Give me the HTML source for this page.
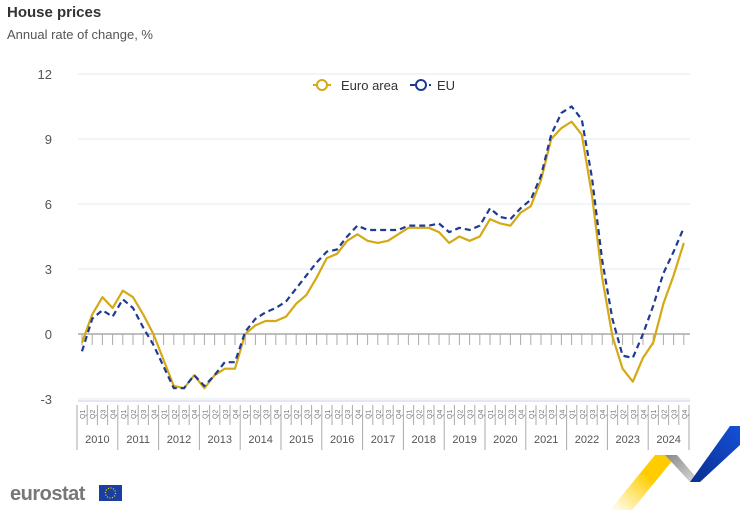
<!DOCTYPE html>
<html><head><meta charset="utf-8"><style>
body{margin:0;width:740px;height:521px;background:#fff;font-family:"Liberation Sans",Arial,sans-serif;overflow:hidden}
</style></head><body>
<svg id="s" width="740" height="521" xmlns="http://www.w3.org/2000/svg" font-family="Liberation Sans, Arial, sans-serif">
<text x="7" y="17" font-size="15" font-weight="bold" fill="#333">House prices</text>
<text x="7" y="39" font-size="13" fill="#555">Annual rate of change, %</text>
<g id="grid"></g>
<g font-size="13" fill="#555" text-anchor="end">
<text x="52" y="79">12</text><text x="52" y="144">9</text><text x="52" y="209">6</text><text x="52" y="274">3</text><text x="52" y="339">0</text><text x="52" y="404">-3</text>
</g>
<g id="ax"></g>
<polyline id="ea" fill="none" stroke="#d4a915" stroke-width="2.2" stroke-linejoin="round"/>
<polyline id="eu" fill="none" stroke="#1f3a93" stroke-width="2.2" stroke-dasharray="6,4" stroke-linejoin="round"/>
<g font-size="13" fill="#333">
<line x1="313" y1="85" x2="331" y2="85" stroke="#d4a915" stroke-width="2"/><circle cx="322" cy="85" r="5" fill="#fff" stroke="#d4a915" stroke-width="2"/>
<text x="341" y="90">Euro area</text>
<line x1="410" y1="85" x2="418" y2="85" stroke="#1f3a93" stroke-width="2"/><circle cx="421" cy="85" r="5" fill="#fff" stroke="#1f3a93" stroke-width="2"/><line x1="429" y1="85" x2="431" y2="85" stroke="#1f3a93" stroke-width="2"/>
<text x="437" y="90">EU</text>
</g>
<text x="10" y="500" font-size="20" font-weight="bold" fill="#777" letter-spacing="-0.5">eurostat</text>
<rect x="99" y="485" width="23" height="16" fill="#1a3fa0"/>
<circle cx="110.5" cy="493" r="5" fill="none" stroke="#ffd000" stroke-width="1.3" stroke-dasharray="1,1.6"/>
<defs><linearGradient id="gy" x1="0" y1="1" x2="1" y2="0"><stop offset="0" stop-color="#ffd200" stop-opacity="0"/><stop offset="0.6" stop-color="#ffcc00"/></linearGradient>
<linearGradient id="gg" x1="0" y1="0" x2="1" y2="1"><stop offset="0" stop-color="#888"/><stop offset="1" stop-color="#ddd"/></linearGradient>
<linearGradient id="gb" x1="0" y1="1" x2="1" y2="0"><stop offset="0" stop-color="#0a2f8f"/><stop offset="1" stop-color="#1550d8"/></linearGradient></defs>
<polygon points="610,510 655,455 677,455 632,510" fill="url(#gy)"/>
<polygon points="665,455 677,455 700,482 690,482" fill="url(#gg)"/>
<polygon points="690,482 730,426 740,426 740,445 700,482" fill="url(#gb)"/>
</svg>
<script>
var ea=[-0.4,0.9,1.7,1.2,2.0,1.7,0.9,0.0,-1.2,-2.4,-2.5,-1.9,-2.5,-1.9,-1.6,-1.6,0.0,0.4,0.6,0.6,0.8,1.4,1.8,2.6,3.5,3.7,4.3,4.6,4.3,4.2,4.3,4.6,4.9,4.9,4.9,4.7,4.2,4.5,4.3,4.5,5.3,5.1,5.0,5.6,5.9,7.1,9.0,9.5,9.8,9.2,6.4,2.6,-0.1,-1.6,-2.2,-1.1,-0.4,1.4,2.7,4.2];
var eu=[-0.8,0.7,1.1,0.8,1.6,1.2,0.3,-0.5,-1.5,-2.5,-2.5,-1.9,-2.4,-1.9,-1.3,-1.3,0.1,0.7,1.0,1.2,1.5,2.1,2.7,3.3,3.8,3.9,4.5,5.0,4.8,4.8,4.8,4.8,5.0,5.0,5.0,5.1,4.7,4.9,4.8,5.0,5.8,5.4,5.3,5.8,6.2,7.3,9.2,10.2,10.5,9.9,7.2,3.4,0.7,-1.0,-1.1,0.0,1.3,2.8,3.8,4.9];
function X(i){return 82+10.2*i}function Y(v){return 334-v*21.67}
document.getElementById('ea').setAttribute('points',ea.map((v,i)=>X(i)+','+Y(v)).join(' '));
document.getElementById('eu').setAttribute('points',eu.map((v,i)=>X(i)+','+Y(v)).join(' '));
var g='';[12,9,6,3,-3].forEach(v=>{g+='<line x1="78" x2="690" y1="'+Y(v)+'" y2="'+Y(v)+'" stroke="#e3e8f0"/>'});
document.getElementById('grid').innerHTML=g;
var a='<line x1="78" x2="690" y1="334" y2="334" stroke="#aaa" stroke-width="1.5"/><line x1="78" x2="690" y1="401" y2="401" stroke="#e3e8f0" stroke-width="2"/>';
for(var i=0;i<60;i++){var x=X(i);a+='<line x1="'+x+'" x2="'+x+'" y1="334" y2="345" stroke="#aaa"/>';
var bx=77+10.2*i;a+='<line x1="'+bx+'" x2="'+bx+'" y1="405" y2="'+(i%4==0?450:425)+'" stroke="#aaa"/>';
a+='<text transform="translate('+(x+3)+',419) rotate(-90)" font-size="7" fill="#777">Q'+(i%4+1)+'</text>';}
a+='<line x1="689" x2="689" y1="405" y2="450" stroke="#aaa"/>';
for(var y=0;y<15;y++){a+='<text x="'+(77+40.8*y+20.4)+'" y="443" font-size="11" fill="#555" text-anchor="middle">'+(2010+y)+'</text>';}
document.getElementById('ax').innerHTML=a;
</script>
</body></html>
